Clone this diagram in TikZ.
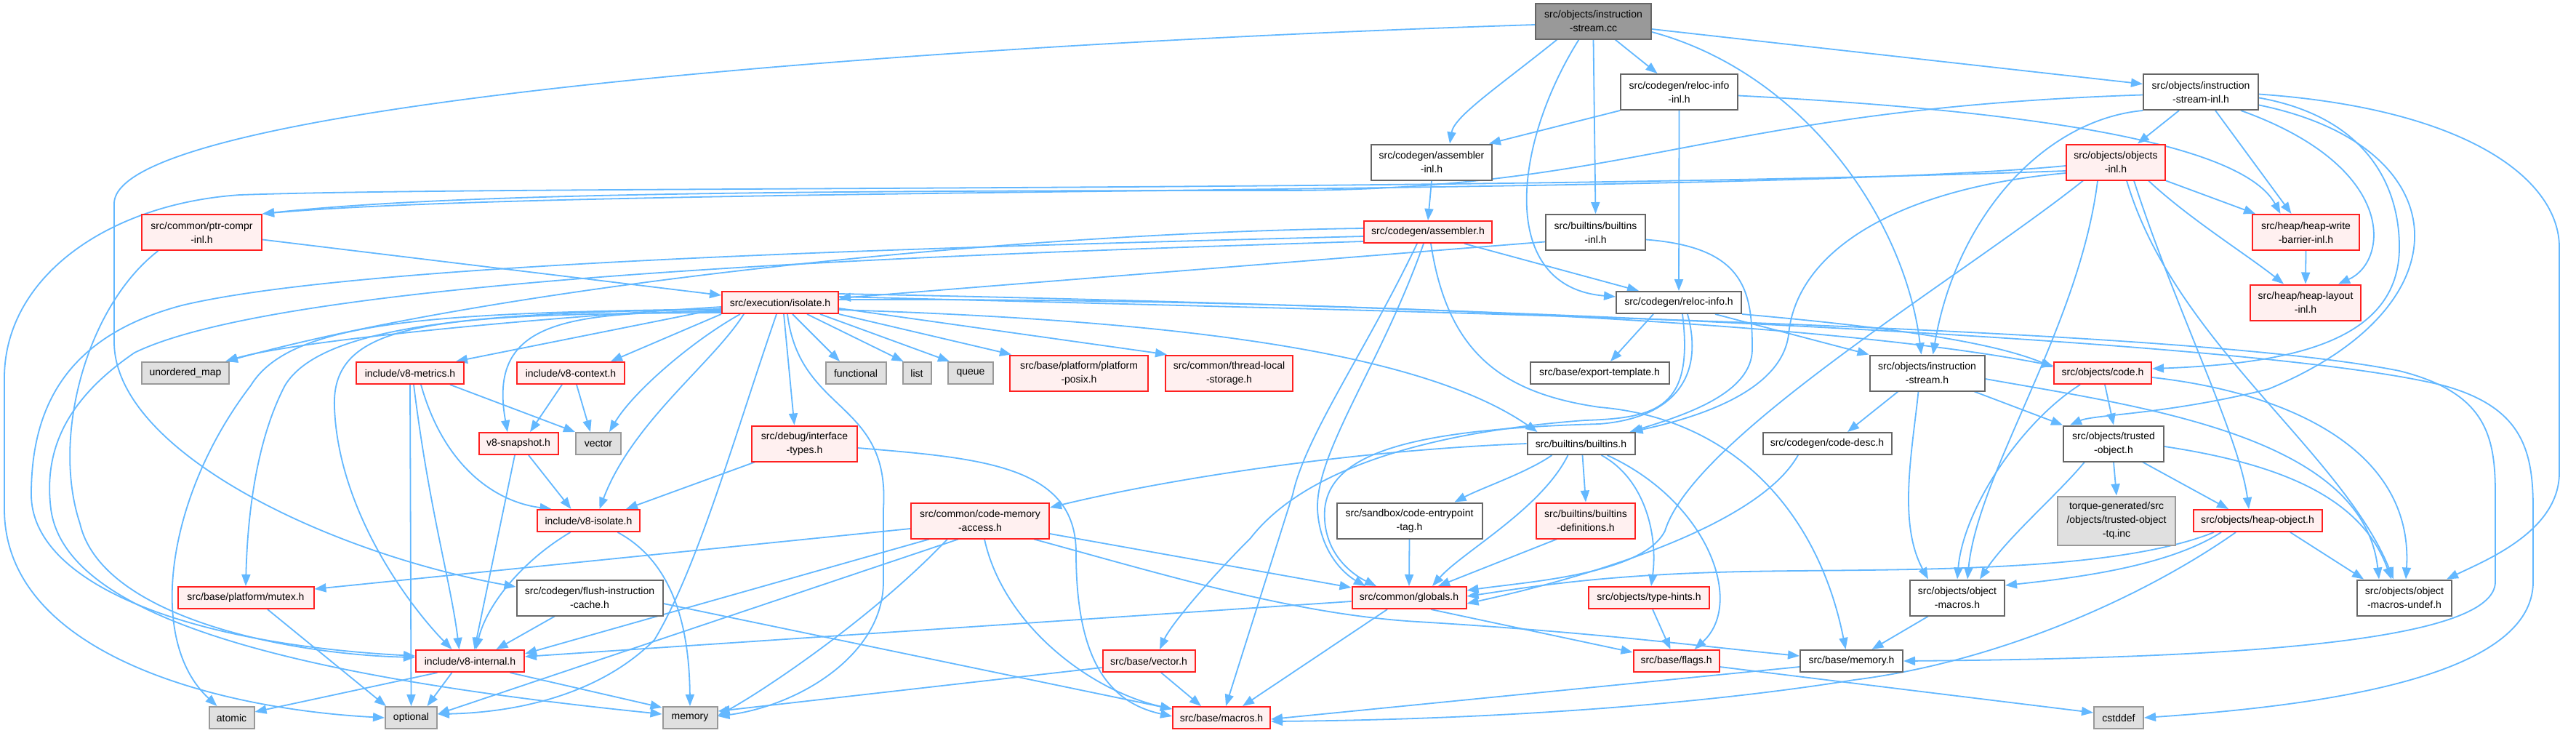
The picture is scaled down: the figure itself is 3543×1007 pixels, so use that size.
\documentclass[tikz,border=0pt]{standalone}
\usepackage{fontspec}
\setmainfont{Liberation Sans}
\usetikzlibrary{arrows.meta}
\pgfdeclarelayer{bg}
\pgfsetlayers{bg,main}
\definecolor{edgec}{HTML}{63B8FF}
\definecolor{nred}{HTML}{FF2020}
\definecolor{nredfill}{HTML}{FFF0F0}
\definecolor{ngray}{HTML}{666666}
\definecolor{extfill}{HTML}{E0E0E0}
\definecolor{extborder}{HTML}{999999}
\definecolor{rootfill}{HTML}{999999}
\tikzset{
 nb/.style={draw, line width=2pt, align=center, inner sep=0pt, font=\fontsize{14}{19}\selectfont},
 wh/.style 2 args={minimum width=#1pt, minimum height=#2pt},
 redn/.style={nb, draw=nred, fill=nredfill},
 whiten/.style={nb, draw=ngray, fill=white},
 extn/.style={nb, draw=extborder, fill=extfill},
 rootn/.style={nb, draw=ngray, fill=rootfill},
 edg/.style={draw=edgec, line width=1.8pt, -{Triangle[length=16pt,width=12pt]}},
}
\begin{document}
\begin{tikzpicture}[x=1pt,y=-1pt]
\useasboundingbox (0,0) rectangle (3543,1007);
% ---------------- nodes ----------------
\node[rootn, wh={159}{49}] (cc) at (2191.5,29) {src/objects/instruction\\-stream.cc};
\node[whiten, wh={161}{49}] (relocInl) at (2309.5,126.5) {src/codegen/reloc-info\\-inl.h};
\node[whiten, wh={158}{49}] (isInl) at (3027,126.5) {src/objects/instruction\\-stream-inl.h};
\node[whiten, wh={166}{49}] (asmInl) at (1969,223) {src/codegen/assembler\\-inl.h};
\node[redn, wh={136}{49}] (objInl) at (2910,223) {src/objects/objects\\-inl.h};
\node[redn, wh={165}{49}] (ptrc) at (277.5,319.5) {src/common/ptr-compr\\-inl.h};
\node[redn, wh={176}{30}] (asmH) at (1964,319) {src/codegen/assembler.h};
\node[whiten, wh={137}{49}] (builtinsInl) at (2194.5,319.5) {src/builtins/builtins\\-inl.h};
\node[redn, wh={147}{49}] (hwb) at (3171.5,319.5) {src/heap/heap-write\\-barrier-inl.h};
\node[redn, wh={160}{30}] (isolate) at (1073,416) {src/execution/isolate.h};
\node[whiten, wh={172}{30}] (relocH) at (2309,416) {src/codegen/reloc-info.h};
\node[redn, wh={152}{49}] (hlayout) at (3171,416) {src/heap/heap-layout\\-inl.h};
\node[extn, wh={120}{30}] (umap) at (255,513) {unordered\_map};
\node[redn, wh={148}{30}] (metrics) at (564,513) {include/v8-metrics.h};
\node[redn, wh={148}{30}] (context) at (785,513) {include/v8-context.h};
\node[extn, wh={83}{30}] (functional) at (1177,513) {functional};
\node[extn, wh={39}{30}] (list) at (1261,513) {list};
\node[extn, wh={62}{30}] (queue) at (1335,513) {queue};
\node[redn, wh={190}{49}] (posix) at (1484,513) {src/base/platform/platform\\-posix.h};
\node[redn, wh={175}{49}] (tls) at (1690.5,513) {src/common/thread-local\\-storage.h};
\node[whiten, wh={191}{30}] (exportT) at (2200,513) {src/base/export-template.h};
\node[whiten, wh={158}{49}] (isH) at (2650.5,513) {src/objects/instruction\\-stream.h};
\node[redn, wh={134}{30}] (codeH) at (2892,513) {src/objects/code.h};
\node[redn, wh={109}{30}] (snapshot) at (713,610) {v8-snapshot.h};
\node[extn, wh={62}{30}] (vector) at (823,610) {vector};
\node[redn, wh={145}{49}] (itypes) at (1106.5,610) {src/debug/interface\\-types.h};
\node[whiten, wh={148}{30}] (builtinsH) at (2174.5,610) {src/builtins/builtins.h};
\node[whiten, wh={177}{30}] (codedesc) at (2513,610) {src/codegen/code-desc.h};
\node[whiten, wh={138}{49}] (trusted) at (2907,610) {src/objects/trusted\\-object.h};
\node[redn, wh={141}{30}] (v8isolate) at (809.5,716) {include/v8-isolate.h};
\node[redn, wh={190}{49}] (cma) at (1348,716) {src/common/code-memory\\-access.h};
\node[whiten, wh={200}{49}] (cet) at (1938.5,716) {src/sandbox/code-entrypoint\\-tag.h};
\node[redn, wh={136}{49}] (bdefs) at (2181,716) {src/builtins/builtins\\-definitions.h};
\node[extn, wh={162}{67}] (tq) at (2911,716) {torque-generated/src\\/objects/trusted-object\\-tq.inc};
\node[redn, wh={177}{30}] (heapobj) at (3105,716) {src/objects/heap-object.h};
\node[redn, wh={187}{30}] (mutex) at (338,822) {src/base/platform/mutex.h};
\node[whiten, wh={201}{49}] (flush) at (811,822) {src/codegen/flush-instruction\\-cache.h};
\node[redn, wh={157}{30}] (globals) at (1938,822) {src/common/globals.h};
\node[redn, wh={166}{30}] (typehints) at (2268,822) {src/objects/type-hints.h};
\node[whiten, wh={130}{49}] (objMacros) at (2692,822) {src/objects/object\\-macros.h};
\node[whiten, wh={130}{49}] (undef) at (3307,822) {src/objects/object\\-macros-undef.h};
\node[redn, wh={149}{30}] (v8internal) at (646.5,909) {include/v8-internal.h};
\node[redn, wh={127}{30}] (vectorH) at (1580,909) {src/base/vector.h};
\node[redn, wh={118}{30}] (flags) at (2305.5,909) {src/base/flags.h};
\node[whiten, wh={141}{30}] (memoryH) at (2546.5,909) {src/base/memory.h};
\node[extn, wh={62}{30}] (atomic) at (318.5,987) {atomic};
\node[extn, wh={71}{30}] (optional) at (565.5,987) {optional};
\node[extn, wh={75}{30}] (memory) at (949,987) {memory};
\node[redn, wh={134}{30}] (macros) at (1680,987) {src/base/macros.h};
\node[extn, wh={68}{30}] (cstddef) at (2914,987) {cstddef};
% ---------------- edges ----------------
\begin{pgfonlayer}{bg}
\fill[white] (0,0) rectangle (3543,1007);
% instruction-stream.cc
\draw[edg] ([xshift=-50pt]cc.south) .. controls (2060,120) and (2000,160) .. ([xshift=25pt]asmInl.north);
\draw[edg] ([xshift=30pt]cc.south) -- ([xshift=-30pt]relocInl.north);
\draw[edg] (cc.south) -- (builtinsInl.north);
\draw[edg] ([yshift=-11pt]cc.east) -- ([yshift=11pt]isInl.west);
\draw[edg] ([yshift=-5pt]cc.west) .. controls (1300,60) and (157,140) .. (157,280) -- (157,470) .. controls (157,620) and (450,760) .. ([yshift=15pt]flush.west);
\draw[edg] ([xshift=-20pt]cc.south) .. controls (2080,200) and (2060,395) .. ([yshift=8pt]relocH.west);
\draw[edg] ([yshift=-15pt]cc.east) .. controls (2480,100) and (2620,300) .. ([xshift=-8pt]isH.north);
% reloc-info-inl.h
\draw[edg] (relocInl.south west) -- ([xshift=-5pt]asmInl.north east);
\draw[edg] (relocInl.south) -- (relocH.north);
\draw[edg] ([yshift=-5pt]relocInl.east) .. controls (2750,150) and (3080,190) .. ([xshift=-35pt]hwb.north);
% assembler-inl.h
\draw[edg] (asmInl.south) -- (asmH.north);
% instruction-stream-inl.h
\draw[edg] ([xshift=-30pt]isInl.south) -- ([xshift=30pt]objInl.north);
\draw[edg] ([yshift=-4pt]isInl.west) .. controls (2350,150) and (2250,262) .. (1760,262) .. controls (1000,262) and (600,268) .. (ptrc.north east);
\draw[edg] ([xshift=20pt]isInl.south) -- ([xshift=-20pt]hwb.north);
\draw[edg] ([xshift=55pt]isInl.south) .. controls (3300,230) and (3285,360) .. ([xshift=45pt]hlayout.north);
\draw[edg] ([yshift=-8pt]isInl.east) .. controls (3250,160) and (3300,250) .. (3300,340) .. controls (3300,470) and (3150,500) .. ([yshift=6pt]codeH.east);
\draw[edg] (isInl.south west) .. controls (2810,165) and (2690,300) .. ([xshift=8pt]isH.north);
\draw[edg] ([yshift=-3pt]isInl.east) .. controls (3400,150) and (3520,250) .. (3520,340) -- (3520,650) .. controls (3520,730) and (3420,770) .. ([xshift=-8pt]undef.north east);
\draw[edg] ([yshift=-18pt]isInl.east) .. controls (3380,200) and (3400,420) .. (3120,535) .. controls (2980,570) and (2880,570) .. ([xshift=10pt]trusted.north west);
% objects-inl.h
\draw[edg] ([yshift=-5pt]objInl.west) .. controls (2400,270) and (800,255) .. (ptrc.north east);
\draw[edg] (objInl.south east) -- ([xshift=5pt]hwb.north west);
\draw[edg] ([xshift=45pt]objInl.south) .. controls (3010,300) and (3090,350) .. ([xshift=-30pt]hlayout.north);
\draw[edg] ([xshift=25pt]objInl.south) .. controls (2990,420) and (3080,600) .. ([xshift=-12pt]heapobj.north);
\draw[edg] ([xshift=-25pt]objInl.south) .. controls (2860,450) and (2720,650) .. ([xshift=14pt]objMacros.north);
\draw[edg] ([xshift=15pt]objInl.south) .. controls (2990,470) and (3220,620) .. ([xshift=-15pt]undef.north);
\draw[edg] ([xshift=-45pt]objInl.south) .. controls (2700,380) and (2330,600) .. (2290,730) .. controls (2260,790) and (2100,800) .. ([yshift=10pt]globals.east);
\draw[edg] ([yshift=-12pt]objInl.west) .. controls (2000,265) and (700,255) .. (330,268) .. controls (150,280) and (6,380) .. (6,520) -- (6,700) .. controls (6,900) and (300,975) .. (optional.west);
\draw[edg] ([yshift=-15pt]objInl.west) .. controls (2600,260) and (2470,350) .. (2460,460) .. controls (2450,540) and (2330,575) .. ([xshift=-6pt]builtinsH.north east);
% ptr-compr-inl.h
\draw[edg] ([yshift=-10pt]ptrc.east) -- ([yshift=10pt]isolate.west);
\draw[edg] ([xshift=-60pt]ptrc.south) .. controls (120,420) and (70,600) .. (110,720) .. controls (140,850) and (400,900) .. ([yshift=5pt]v8internal.west);
% assembler.h
\draw[edg] ([yshift=5pt]asmH.west) .. controls (1400,320) and (700,390) .. ([xshift=-5pt]umap.north east);
\draw[edg] ([yshift=-6pt]asmH.west) .. controls (1300,340) and (500,360) .. (250,420) .. controls (100,460) and (43,550) .. (43,680) .. controls (43,800) and (250,885) .. ([yshift=7pt]v8internal.west);
\draw[edg] ([yshift=-13pt]asmH.west) .. controls (1300,350) and (400,380) .. (185,485) .. controls (90,550) and (60,620) .. (70,700) .. controls (90,850) and (400,930) .. ([yshift=5pt]memory.west);
\draw[edg] ([xshift=50pt]asmH.south) -- ([xshift=-55pt]relocH.north);
\draw[edg] ([xshift=-6pt]asmH.south) .. controls (1900,500) and (1810,620) .. (1812,700) .. controls (1815,760) and (1850,790) .. ([xshift=-60pt]globals.north);
\draw[edg] ([xshift=-15pt]asmH.south) .. controls (1880,480) and (1795,600) .. (1778,680) -- ([xshift=6pt]macros.north);
\draw[edg] ([xshift=4pt]asmH.south) .. controls (1990,480) and (2060,540) .. (2200,560) .. controls (2380,575) and (2500,700) .. ([xshift=-8pt]memoryH.north);
% builtins-inl.h
\draw[edg] ([yshift=-13pt]builtinsInl.west) -- ([yshift=6pt]isolate.east);
\draw[edg] ([yshift=-10pt]builtinsInl.east) .. controls (2400,340) and (2410,400) .. (2410,480) .. controls (2410,540) and (2320,570) .. ([xshift=-8pt]builtinsH.north east);
% reloc-info.h
\draw[edg] ([xshift=-35pt]relocH.south) -- ([xshift=15pt]exportT.north);
\draw[edg] ([xshift=50pt]relocH.south) -- (isH.north west);
\draw[edg] (relocH.south east) .. controls (2600,450) and (2740,470) .. ([yshift=8pt]codeH.west);
\draw[edg] ([xshift=5pt]relocH.south) .. controls (2330,560) and (2280,575) .. (2180,578) .. controls (1950,595) and (1790,650) .. (1720,740) .. controls (1660,800) and (1610,860) .. ([xshift=15pt]vectorH.north);
\draw[edg] ([xshift=12pt]relocH.south) .. controls (2345,520) and (2300,575) .. (2200,583) .. controls (1950,590) and (1830,620) .. (1822,700) .. controls (1818,760) and (1860,790) .. ([xshift=-45pt]globals.north);
% builtins.h
\draw[edg] (builtinsH.west) .. controls (1850,620) and (1600,660) .. ([yshift=18pt]cma.east);
\draw[edg] ([xshift=-40pt]builtinsH.south) .. controls (2100,650) and (2040,670) .. ([xshift=62pt]cet.north);
\draw[edg] ([xshift=-18pt]builtinsH.south) .. controls (2120,700) and (2010,760) .. ([xshift=32pt]globals.north);
\draw[edg] ([xshift=2pt]builtinsH.south) -- (bdefs.north);
\draw[edg] ([xshift=28pt]builtinsH.south) .. controls (2265,660) and (2280,740) .. ([xshift=3pt]typehints.north);
\draw[edg] ([xshift=36pt]builtinsH.south) .. controls (2350,690) and (2400,830) .. ([xshift=25pt]flags.north);
% isolate.h
\draw[edg] ([yshift=-6pt]isolate.west) .. controls (700,440) and (400,470) .. ([xshift=-6pt]umap.north east);
\draw[edg] ([yshift=-8pt]isolate.west) -- ([xshift=-12pt]metrics.north east);
\draw[edg] (isolate.south west) -- ([xshift=-20pt]context.north east);
\draw[edg] ([xshift=17pt]isolate.south) -- ([xshift=-22pt]functional.north);
\draw[edg] ([xshift=37pt]isolate.south) -- ([xshift=2pt]list.north west);
\draw[edg] ([xshift=55pt]isolate.south) -- ([xshift=3pt]queue.north west);
\draw[edg] (isolate.south east) -- ([xshift=3pt]posix.north west);
\draw[edg] ([yshift=-8pt]isolate.east) -- ([xshift=3pt]tls.north west);
\draw[edg] ([yshift=-12pt]isolate.west) .. controls (780,430) and (670,440) .. ([xshift=-15pt]snapshot.north);
\draw[edg] ([xshift=-55pt]isolate.south) .. controls (950,470) and (870,540) .. ([xshift=15pt]vector.north);
\draw[edg] ([xshift=-50pt]isolate.south) .. controls (980,500) and (870,580) .. ([xshift=15pt]v8isolate.north);
\draw[edg] ([xshift=5pt]isolate.south) -- ([xshift=-14pt]itypes.north);
\draw[edg] ([yshift=-14pt]isolate.west) .. controls (600,432) and (455,440) .. (460,560) .. controls (465,700) and (560,830) .. ([xshift=-25pt]v8internal.north);
\draw[edg] ([yshift=-9pt]isolate.west) .. controls (600,430) and (400,440) .. (345,530) .. controls (230,680) and (200,880) .. ([xshift=-20pt]atomic.north);
\draw[edg] ([xshift=-5pt]isolate.south) .. controls (1010,600) and (960,780) .. (900,880) .. controls (820,960) and (700,980) .. ([yshift=5pt]optional.east);
\draw[edg] ([xshift=10pt]isolate.south) .. controls (1100,570) and (1225,550) .. (1215,700) -- (1215,800) .. controls (1215,900) and (1100,970) .. ([yshift=2pt]memory.east);
\draw[edg] ([yshift=-10pt]isolate.west) .. controls (650,428) and (440,450) .. (392,530) .. controls (350,610) and (340,720) .. (mutex.north);
\draw[edg] ([yshift=-10pt]isolate.east) .. controls (1600,440) and (1950,480) .. ([xshift=-60pt]builtinsH.north);
\draw[edg] ([yshift=4pt]isolate.east) .. controls (1800,410) and (2500,440) .. ([yshift=10pt]codeH.west);
\draw[edg] ([yshift=8pt]isolate.east) .. controls (2000,430) and (3000,450) .. (3300,510) .. controls (3420,540) and (3432,600) .. (3432,680) -- (3432,800) .. controls (3432,880) and (3100,905) .. (memoryH.east);
\draw[edg] ([yshift=12pt]isolate.east) .. controls (2000,420) and (3100,465) .. (3360,530) .. controls (3470,560) and (3484,620) .. (3484,700) -- (3484,800) .. controls (3484,930) and (3200,970) .. (cstddef.east);
% v8-metrics.h, v8-context.h, v8-snapshot.h
\draw[edg] (metrics.south) -- (optional.north);
\draw[edg] ([xshift=5pt]metrics.south) .. controls (590,700) and (620,800) .. ([xshift=-15pt]v8internal.north);
\draw[edg] ([xshift=15pt]metrics.south) .. controls (610,640) and (680,690) .. ([xshift=-51pt]v8isolate.north);
\draw[edg] ([xshift=55pt]metrics.south) -- (vector.north west);
\draw[edg] ([xshift=-12pt]context.south) -- ([xshift=16pt]snapshot.north);
\draw[edg] ([xshift=8pt]context.south) -- ([xshift=-11pt]vector.north);
\draw[edg] ([xshift=-5pt]snapshot.south) -- ([xshift=6pt]v8internal.north);
\draw[edg] ([xshift=14pt]snapshot.south) -- ([xshift=-24pt]v8isolate.north);
% interface-types.h
\draw[edg] ([xshift=5pt]itypes.south west) -- ([xshift=-20pt]v8isolate.north east);
\draw[edg] ([yshift=-6pt]itypes.east) .. controls (1350,630) and (1480,640) .. (1480,760) .. controls (1480,900) and (1520,965) .. ([yshift=2pt]macros.west);
% v8-isolate.h
\draw[edg] ([xshift=-25pt]v8isolate.south) .. controls (720,770) and (670,830) .. ([xshift=8pt]v8internal.north);
\draw[edg] ([xshift=40pt]v8isolate.south) .. controls (920,770) and (948,850) .. (memory.north);
% flush-instruction-cache.h, mutex.h, v8-internal.h
\draw[edg] ([xshift=-48pt]flush.south) -- ([xshift=36pt]v8internal.north);
\draw[edg] ([yshift=-8pt]flush.east) -- ([yshift=12pt]macros.west);
\draw[edg] ([xshift=30pt]mutex.south) -- ([xshift=2pt]optional.north west);
\draw[edg] ([xshift=-45pt]v8internal.south) -- ([yshift=8pt]atomic.east);
\draw[edg] ([xshift=-25pt]v8internal.south) -- ([xshift=22pt]optional.north);
\draw[edg] ([xshift=55pt]v8internal.south) -- ([yshift=14pt]memory.west);
% code-memory-access.h
\draw[edg] ([yshift=-11pt]cma.west) -- ([yshift=12pt]mutex.east);
\draw[edg] ([xshift=-70pt]cma.south) -- ([yshift=10pt]v8internal.east);
\draw[edg] ([xshift=-30pt]cma.south) -- ([yshift=5pt]optional.east);
\draw[edg] ([xshift=-45pt]cma.south) .. controls (1200,850) and (1050,950) .. ([yshift=3pt]memory.east);
\draw[edg] ([xshift=6pt]cma.south) .. controls (1380,860) and (1500,950) .. ([yshift=12pt]macros.west);
\draw[edg] ([xshift=74pt]cma.south) .. controls (1600,790) and (1780,845) .. (1950,855) .. controls (2200,870) and (2350,890) .. ([yshift=7pt]memoryH.west);
\draw[edg] ([yshift=-18pt]cma.east) -- ([yshift=14pt]globals.west);
% code-entrypoint-tag.h, builtins-definitions.h
\draw[edg] (cet.south) -- (globals.north);
\draw[edg] ([xshift=-40pt]bdefs.south) -- ([xshift=40pt]globals.north);
% globals.h, type-hints.h, flags.h, memory.h
\draw[edg] ([yshift=-5pt]globals.west) -- ([yshift=6pt]v8internal.east);
\draw[edg] ([xshift=30pt]globals.south) -- ([yshift=12pt]flags.west);
\draw[edg] ([xshift=-30pt]globals.south) -- ([xshift=29pt]macros.north);
\draw[edg] ([xshift=5pt]typehints.south) -- ([xshift=-8pt]flags.north);
\draw[edg] ([yshift=-8pt]flags.east) -- ([yshift=7pt]cstddef.west);
\draw[edg] ([yshift=-8pt]memoryH.west) -- ([yshift=-2pt]macros.east);
% heap-object.h
\draw[edg] ([xshift=-30pt]heapobj.south) .. controls (2950,820) and (2750,910) .. (2550,935) .. controls (2300,975) and (2000,990) .. ([yshift=-5pt]macros.east);
\draw[edg] ([xshift=-60pt]heapobj.south) .. controls (2900,790) and (2600,782) .. (2400,786) .. controls (2200,790) and (2100,808) .. ([yshift=2pt]globals.east);
\draw[edg] ([xshift=-50pt]heapobj.south) .. controls (2980,780) and (2850,795) .. ([yshift=17pt]objMacros.east);
\draw[edg] ([xshift=45pt]heapobj.south) -- ([xshift=-56pt]undef.north);
% trusted-object.h
\draw[edg] ([xshift=-40pt]trusted.south) .. controls (2830,680) and (2760,740) .. ([xshift=31pt]objMacros.north);
\draw[edg] ([yshift=-4pt]trusted.east) .. controls (3150,640) and (3250,690) .. ([xshift=-18pt]undef.north);
\draw[edg] ([xshift=40pt]trusted.south) -- ([xshift=-40pt]heapobj.north);
\draw[edg] (trusted.south) -- (tq.north);
% code.h
\draw[edg] ([xshift=3pt]codeH.south) -- (trusted.north);
\draw[edg] ([xshift=-31pt]codeH.south) .. controls (2780,580) and (2700,700) .. (objMacros.north);
\draw[edg] ([yshift=-6pt]codeH.east) .. controls (3150,540) and (3320,620) .. ([xshift=2pt]undef.north);
% instruction-stream.h
\draw[edg] ([xshift=-40pt]isH.south) -- ([xshift=28pt]codedesc.north);
\draw[edg] ([xshift=65pt]isH.south) -- (trusted.north west);
\draw[edg] ([yshift=-8pt]isH.east) .. controls (2950,560) and (3250,600) .. ([xshift=-35pt]undef.north);
\draw[edg] ([xshift=-12pt]isH.south) .. controls (2630,620) and (2610,720) .. ([xshift=-40pt]objMacros.north);
% code-desc.h, object-macros.h, vector.h, heap-write-barrier
\draw[edg] ([xshift=-40pt]codedesc.south) .. controls (2420,720) and (2200,790) .. ([yshift=-8pt]globals.east);
\draw[edg] ([xshift=-40pt]objMacros.south) -- ([xshift=28pt]memoryH.north);
\draw[edg] ([xshift=17pt]vectorH.south) -- ([xshift=-28pt]macros.north);
\draw[edg] ([yshift=-9pt]vectorH.west) -- ([yshift=9pt]memory.east);
\draw[edg] (hwb.south) -- (hlayout.north);
\end{pgfonlayer}
\end{tikzpicture}
\end{document}
